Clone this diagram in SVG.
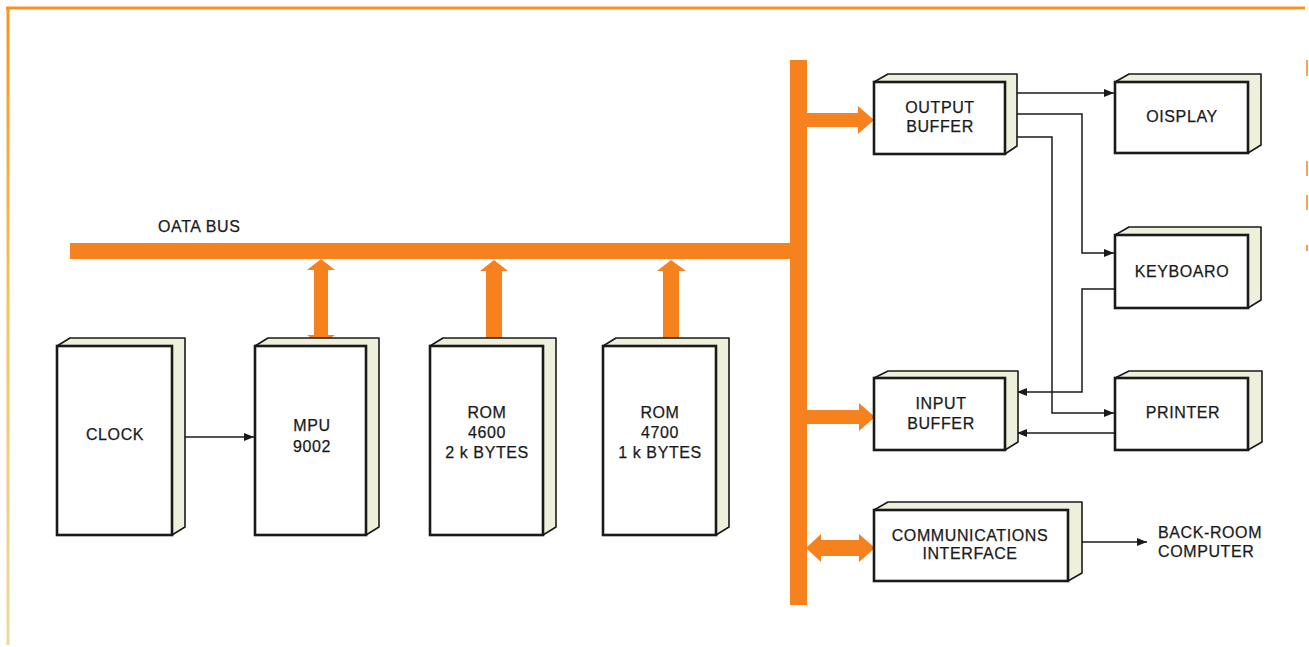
<svg xmlns="http://www.w3.org/2000/svg" width="1309" height="647" viewBox="0 0 1309 647">
<defs>
<style>
.depth{fill:#eef0dc;stroke:#1a1a1a;stroke-width:1.6;stroke-linejoin:round}
.front{fill:#ffffff;stroke:#1a1a1a;stroke-width:2.6}
.lbl{font-family:"Liberation Sans",Arial,sans-serif;font-size:16px;fill:#1a1a1a;stroke:#1a1a1a;stroke-width:0.25;text-anchor:middle;letter-spacing:0.6px}
.lbls{font-family:"Liberation Sans",Arial,sans-serif;font-size:16px;fill:#1a1a1a;stroke:#1a1a1a;stroke-width:0.25;letter-spacing:0.6px}
.bus{fill:#f5821f}
.wire{fill:none;stroke:#1a1a1a;stroke-width:1.5}
</style>
<marker id="ah" viewBox="0 0 10 8" refX="10" refY="4" markerWidth="10" markerHeight="8" markerUnits="userSpaceOnUse" orient="auto">
<path d="M0,0 L10,4 L0,8 Z" fill="#1a1a1a"/>
</marker>
<linearGradient id="lg" x1="0" y1="0" x2="0" y2="1">
<stop offset="0" stop-color="#f7941d"/>
<stop offset="0.45" stop-color="#f2c35a"/>
<stop offset="1" stop-color="#ecd9a0"/>
</linearGradient>
</defs>
<rect width="1309" height="647" fill="#ffffff"/>
<g id="frame">
<line x1="6" y1="8" x2="1305" y2="8" stroke="#f7941d" stroke-width="3"/>
<rect x="6.5" y="7" width="3" height="638" fill="url(#lg)"/>
<g stroke="#f5a54a" stroke-width="2">
<line x1="1307" y1="60" x2="1307" y2="76"/>
<line x1="1307" y1="161" x2="1307" y2="176"/>
<line x1="1307" y1="195" x2="1307" y2="210"/>
<line x1="1307" y1="245" x2="1307" y2="251"/>
</g>
</g>
<g id="bus">
<rect class="bus" x="70" y="243" width="737" height="16"/>
<rect class="bus" x="790" y="60" width="17" height="545"/>
<text class="lbls" x="158" y="232">OATA BUS</text>
</g>
<g id="connectors">
<polygon class="bus" points="321,259 335,270 328,270 328,335 335,335 321,345 307,335 314,335 314,270 307,270"/>
<polygon class="bus" points="494,260 508,271 502,271 502,346 486,346 486,271 480,271"/>
<polygon class="bus" points="671,260 686,271 679,271 679,346 663,346 663,271 657,271"/>
<polygon class="bus" points="806,113 858,113 858,106 874,120 858,134 858,127 806,127"/>
<polygon class="bus" points="806,410 859,410 859,403 875,417 859,431 859,424 806,424"/>
<polygon class="bus" points="806,548 821,534 821,540 859,540 859,534 875,548 859,562 859,556 821,556 821,562"/>
<line class="wire" x1="178" y1="437" x2="254" y2="437" marker-end="url(#ah)"/>
<polyline class="wire" points="1014,93 1114,93" marker-end="url(#ah)"/>
<polyline class="wire" points="1014,114 1082,114 1082,253 1114,253" marker-end="url(#ah)"/>
<polyline class="wire" points="1014,137 1052,137 1052,413 1114,413" marker-end="url(#ah)"/>
<polyline class="wire" points="1115,289 1082,289 1082,392 1017,392" marker-end="url(#ah)"/>
<polyline class="wire" points="1115,433 1017,433" marker-end="url(#ah)"/>
<line class="wire" x1="1076" y1="542" x2="1147" y2="542" marker-end="url(#ah)"/>
</g>
<g id="clock">
<polygon class="depth" points="57,346 70,338 185,338 185,527 172,535 172,346"/>
<rect class="front" x="57" y="346" width="115" height="189"/>
<text class="lbl" x="115" y="440">CLOCK</text>
</g>
<g id="mpu">
<polygon class="depth" points="255,346 268,338 379,338 379,527 366,535 366,346"/>
<rect class="front" x="255" y="346" width="111" height="189"/>
<text class="lbl" x="312" y="431">MPU</text>
<text class="lbl" x="312" y="452">9002</text>
</g>
<g id="rom4600">
<polygon class="depth" points="430,346 443,338 556,338 556,527 543,535 543,346"/>
<rect class="front" x="430" y="346" width="113" height="189"/>
<text class="lbl" x="487" y="418">ROM</text>
<text class="lbl" x="487" y="438">4600</text>
<text class="lbl" x="487" y="458">2 k BYTES</text>
</g>
<g id="rom4700">
<polygon class="depth" points="603,346 616,338 729,338 729,527 716,535 716,346"/>
<rect class="front" x="603" y="346" width="113" height="189"/>
<text class="lbl" x="660" y="418">ROM</text>
<text class="lbl" x="660" y="438">4700</text>
<text class="lbl" x="660" y="458">1 k BYTES</text>
</g>
<g id="output-buffer">
<polygon class="depth" points="874,82 888,74 1017,74 1017,146 1005,154 1005,82"/>
<rect class="front" x="874" y="82" width="131" height="72"/>
<text class="lbl" x="940" y="113">OUTPUT</text>
<text class="lbl" x="940" y="132">BUFFER</text>
</g>
<g id="input-buffer">
<polygon class="depth" points="874,378 888,371 1018,371 1018,442 1005,450 1005,378"/>
<rect class="front" x="874" y="378" width="131" height="72"/>
<text class="lbl" x="941" y="409">INPUT</text>
<text class="lbl" x="941" y="429">BUFFER</text>
</g>
<g id="communications-interface">
<polygon class="depth" points="874,510 888,502 1082,502 1082,573 1068,581 1068,510"/>
<rect class="front" x="874" y="510" width="194" height="71"/>
<text class="lbl" x="970" y="541">COMMUNICATIONS</text>
<text class="lbl" x="970" y="559">INTERFACE</text>
</g>
<g id="display">
<polygon class="depth" points="1115,82 1129,74 1261,74 1261,145 1248,153 1248,82"/>
<rect class="front" x="1115" y="82" width="133" height="71"/>
<text class="lbl" x="1182" y="122">OISPLAY</text>
</g>
<g id="keyboard">
<polygon class="depth" points="1115,235 1129,227 1261,227 1261,300 1248,308 1248,235"/>
<rect class="front" x="1115" y="235" width="133" height="73"/>
<text class="lbl" x="1182" y="277">KEYBOARO</text>
</g>
<g id="printer">
<polygon class="depth" points="1115,378 1129,371 1262,371 1262,442 1248,450 1248,378"/>
<rect class="front" x="1115" y="378" width="133" height="72"/>
<text class="lbl" x="1183" y="418">PRINTER</text>
</g>
<g id="back-room-computer">
<text class="lbls" x="1158" y="538">BACK-ROOM</text>
<text class="lbls" x="1158" y="557">COMPUTER</text>
</g>
</svg>
